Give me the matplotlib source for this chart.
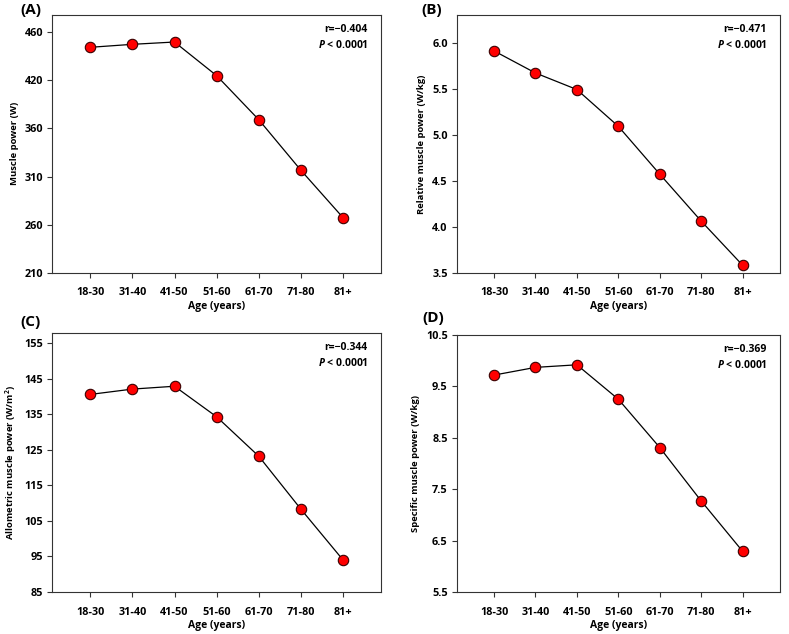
import matplotlib
matplotlib.use("Agg")
import matplotlib.pyplot as plt

plt.rcParams['font.family'] = ['Open Sans', 'DejaVu Sans']
plt.rcParams['font.weight'] = 'bold'
plt.rcParams['mathtext.fontset'] = 'custom'
plt.rcParams['mathtext.bf'] = 'Open Sans:bold'
plt.rcParams['mathtext.bfit'] = 'Open Sans:italic:bold'
plt.rcParams['mathtext.rm'] = 'Open Sans:bold'

ages = ["18-30", "31-40", "41-50", "51-60", "61-70", "71-80", "81+"]

muscle_power = [444.4, 447.5, 449.9, 414.9, 369.1, 316.5, 267.2]
relative_power = [5.91, 5.67, 5.49, 5.09, 4.57, 4.06, 3.58]
allometric_power = [140.6, 142.1, 142.9, 134.3, 123.2, 108.3, 94.0]
specific_power = [9.72, 9.87, 9.92, 9.25, 8.31, 7.27, 6.29]

# y ticks as printed on the original (A has "420" where 410 would sit)
ticks_a = [210, 260, 310, 360, 410, 460]
ticklabels_a = ["210", "260", "310", "360", "420", "460"]
ticks_b = [3.5, 4.0, 4.5, 5.0, 5.5, 6.0]
ticks_c = [85, 95, 105, 115, 125, 135, 145, 155]
ticks_d = [5.5, 6.5, 7.5, 8.5, 9.5, 10.5]

panels = [
    ("(A)", muscle_power, "Muscle power (W)", ticks_a, ticklabels_a, (210, 478), "r=\u22120.404"),
    ("(B)", relative_power, "Relative muscle power (W/kg)", ticks_b,
     ["%.1f" % t for t in ticks_b], (3.5, 6.3), "r=\u22120.471"),
    ("(C)", allometric_power, "Allometric muscle power (W/m$^\\mathbf{2}$)", ticks_c,
     [str(t) for t in ticks_c], (85, 157.8), "r=\u22120.344"),
    ("(D)", specific_power, "Specific muscle power (W/kg)", ticks_d,
     ["%.1f" % t for t in ticks_d], (5.5, 10.5), "r=\u22120.369"),
]

W, H = 789, 634
rects = [
    (52.3, 15, 381, 272.7),
    (456.7, 15, 780, 272.7),
    (52.3, 333.3, 381, 592),
    (456.7, 335, 780, 592),
]
label_pos = [(20, 3), (421, 3), (20, 315), (422, 311)]

fig = plt.figure(figsize=(W / 100, H / 100), dpi=100)

for (tag, vals, ylab, ticks, tlabels, ylim, rtext), (x0, y0, x1, y1), (lx, ly) in zip(panels, rects, label_pos):
    ax = fig.add_axes([x0 / W, 1 - y1 / H, (x1 - x0) / W, (y1 - y0) / H])
    x = list(range(len(ages)))
    ax.plot(x, vals, color="black", linewidth=0.9, marker="o", markersize=7.5,
            markerfacecolor="#ff0000", markeredgecolor="#3a0000", markeredgewidth=0.8)
    ax.set_xlim(-0.9, 6.9)
    ax.set_ylim(*ylim)
    ax.set_xticks(x)
    ax.set_xticklabels(ages, fontsize=7.8, fontweight="bold")
    ax.set_yticks(ticks)
    ax.set_yticklabels(tlabels, fontsize=7.8, fontweight="bold")
    ax.tick_params(axis="x", length=3.5, width=0.8, pad=7, color="#333333")
    ax.tick_params(axis="y", length=3.5, width=0.8, pad=3, color="#333333")
    for s in ax.spines.values():
        s.set_linewidth(0.8)
        s.set_color("#333333")
    ax.set_xlabel("Age (years)", fontsize=7.5, fontweight="bold", labelpad=2)
    ax.set_ylabel(ylab, fontsize=6.8, fontweight="bold", labelpad=4)
    ax.text(0.96, 0.945, rtext, transform=ax.transAxes, ha="right", va="center",
            fontsize=7.5, fontweight="bold")
    ax.text(0.96, 0.885, "$\\mathbfit{P}$ < 0.0001", transform=ax.transAxes, ha="right",
            va="center", fontsize=7.5, fontweight="bold")
    fig.text(lx / W, 1 - ly / H, tag, ha="left", va="top", fontsize=11, fontweight="bold")

fig.savefig("out.png", dpi=100)
